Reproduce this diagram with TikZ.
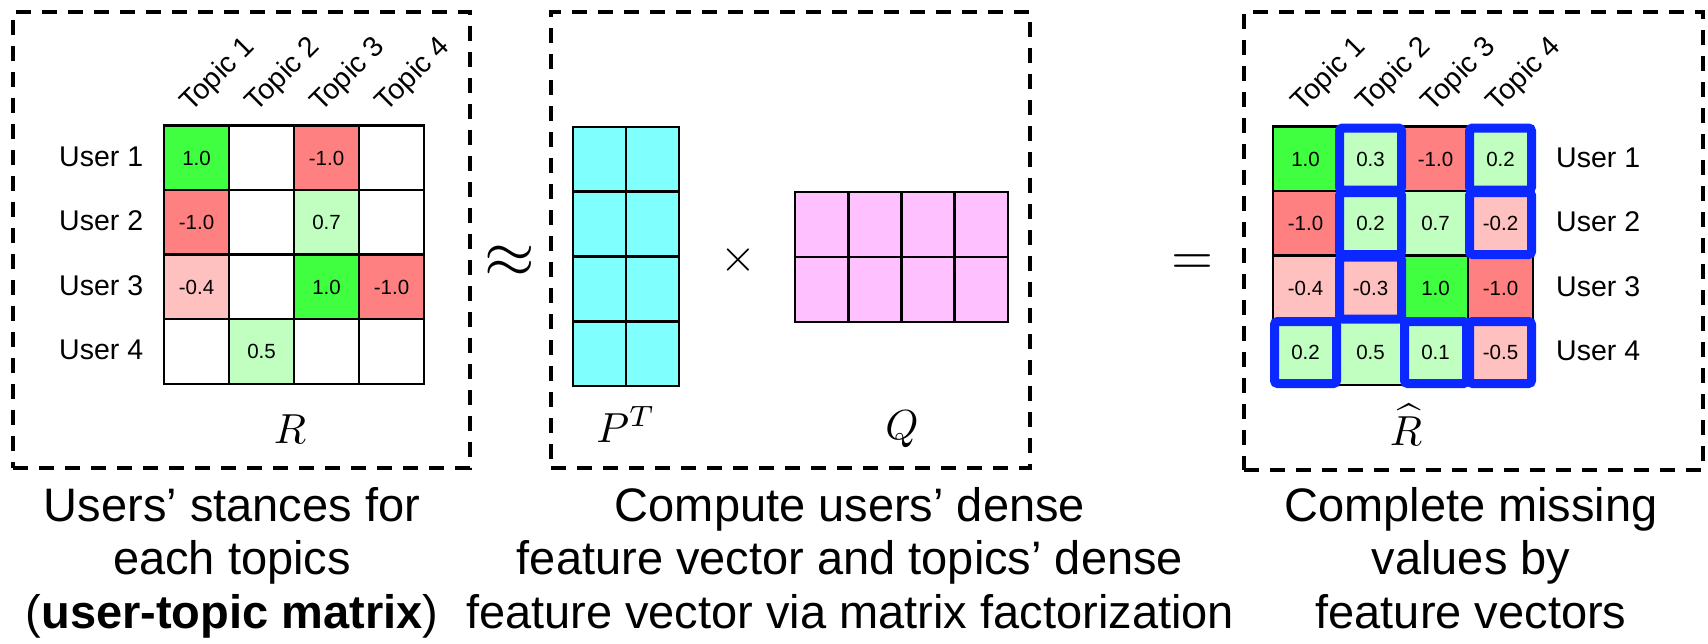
\documentclass[tikz,border=0pt]{standalone}
\usepackage[no-math]{fontspec}
\setmainfont{Liberation Sans}
\usetikzlibrary{calc}

\definecolor{posHi}{RGB}{64,255,64}
\definecolor{posLo}{RGB}{192,255,192}
\definecolor{negHi}{RGB}{255,128,128}
\definecolor{negLo}{RGB}{255,192,192}
\definecolor{pcyan}{RGB}{128,255,255}
\definecolor{qpink}{RGB}{255,192,255}
\definecolor{hlblue}{RGB}{10,40,255}

\tikzset{
  panel/.style={draw=black, line width=3.5pt, dash pattern=on 15pt off 11pt,
    inner sep=0pt, outer sep=0pt},
  cell/.style={draw=black, line width=2.6pt, minimum width=65pt, minimum height=65pt,
    inner sep=0pt, outer sep=0pt, font=\fontsize{20.5}{24}\selectfont},
  pcell/.style={cell, fill=pcyan, minimum width=53pt, minimum height=64.75pt},
  qcell/.style={cell, fill=qpink, minimum width=53.25pt, minimum height=65pt},
  topic/.style={rotate=45, anchor=base west, inner sep=0pt,
    font=\fontsize{28.5}{32}\selectfont},
  userlab/.style={anchor=west, inner sep=0pt, font=\fontsize{28.5}{32}\selectfont},
  mlab/.style={anchor=base, inner sep=0pt, scale=4.2},
  opsym/.style={anchor=base, inner sep=0pt},
  caption/.style={anchor=base, align=center, inner sep=0pt,
    font=\fontsize{47}{53.5}\selectfont},
  hl/.style={draw=hlblue, line width=9pt, rounded corners=3pt}
}

\begin{document}
\begin{tikzpicture}[x=1pt, y=-1pt]
\useasboundingbox (0,0) rectangle (1708,643);

% dashed frames of the three stages
\node[panel, minimum width=457pt, minimum height=456pt] (boxL) at (241.5,240) {};
\node[panel, minimum width=479pt, minimum height=456pt] (boxM) at (790.5,240) {};
\node[panel, minimum width=459pt, minimum height=458pt] (boxR) at (1473.5,241) {};

% observed user-topic matrix R
\foreach \r/\c/\f/\v in {
  1/1/posHi/1.0, 1/2/white/{}, 1/3/negHi/-1.0, 1/4/white/{},
  2/1/negHi/-1.0, 2/2/white/{}, 2/3/posLo/0.7, 2/4/white/{},
  3/1/negLo/-0.4, 3/2/white/{}, 3/3/posHi/1.0, 3/4/negHi/-1.0,
  4/1/white/{}, 4/2/posLo/0.5, 4/3/white/{}, 4/4/white/{}}
  \node[cell, fill=\f] (L-\r-\c) at ({131.5+65*\c},{93.5+64.5*\r}) {\v};
\foreach \c in {1,...,4}
  \node[topic] (LT-\c) at ([shift={(-5,-13)}]L-1-\c.north) {Topic \c};
\foreach \r in {1,...,4}
  \node[userlab] (LU-\r) at ({59},{92+64.5*\r}) {User \r};
\node[mlab] (Rlab) at (290,443) {$R$};

% factor matrices P^T and Q
\foreach \r in {1,...,4}
  \foreach \c in {1,2}
    \node[pcell] (P-\r-\c) at ({546.5+53*\c},{94.6+64.75*\r}) {};
\foreach \r in {1,2}
  \foreach \c in {1,...,4}
    \node[qcell] (Q-\r-\c) at ({768.4+53.25*\c},{159.5+65*\r}) {};
\node[mlab] (Plab) at (626,442) {$P^{T}$};
\node[mlab] (Qlab) at (902,439) {$Q$};

% operators between the stages
\node[opsym, scale=6.5] (approx) at (510,277) {$\approx$};
\node[opsym, scale=4.6] (times) at (738,271) {$\times$};
\node[opsym, scale=5.4] (equals) at (1192,274) {$=$};

% completed matrix R-hat
\foreach \r/\c/\f/\v in {
  1/1/posHi/1.0, 1/2/posLo/0.3, 1/3/negHi/-1.0, 1/4/posLo/0.2,
  2/1/negHi/-1.0, 2/2/posLo/0.2, 2/3/posLo/0.7, 2/4/negLo/-0.2,
  3/1/negLo/-0.4, 3/2/negLo/-0.3, 3/3/posHi/1.0, 3/4/negHi/-1.0,
  4/1/posLo/0.2, 4/2/posLo/0.5, 4/3/posLo/0.1, 4/4/negLo/-0.5}
  \node[cell, fill=\f] (H-\r-\c) at ({1240.5+65*\c},{94.5+64.5*\r}) {\v};
\foreach \r/\c in {1/2, 2/2, 3/2, 1/4, 2/4, 4/1, 4/3, 4/4}
  \draw[hl] ([shift={(1.5,1.5)}]H-\r-\c.north west) rectangle ([shift={(-1.5,-1.5)}]H-\r-\c.south east);
\foreach \c in {1,...,4}
  \node[topic] (HT-\c) at ([shift={(-3,-14)}]H-1-\c.north) {Topic \c};
\foreach \r in {1,...,4}
  \node[userlab] (HU-\r) at ({1556},{93+64.5*\r}) {User \r};
\node[mlab] (Hlab) at (1406,445) {$\widehat{R}$};

% captions (anchored at the baseline of their last line)
\node[caption] (capL) at (232,628) {Users’ stances for\\each topics\\(\textbf{user-topic matrix})};
\node[caption] (capM) at (850,628) {Compute users’ dense\\feature vector and topics’ dense\\feature vector via matrix factorization};
\node[caption] (capR) at (1471,628) {Complete missing\\values by\\feature vectors};
\end{tikzpicture}
\end{document}
